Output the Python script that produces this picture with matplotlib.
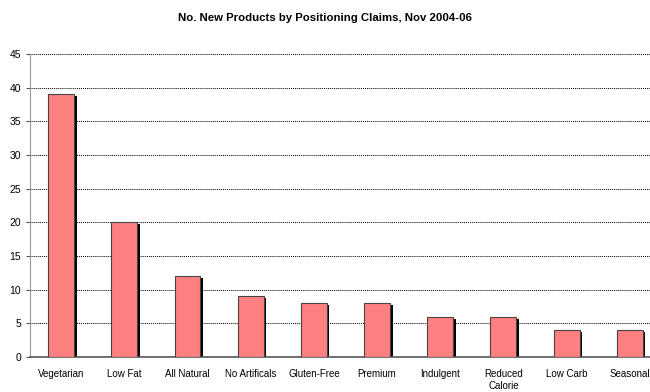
import matplotlib.pyplot as plt
import numpy as np

plt.rcParams['font.family'] = ['Liberation Sans', 'DejaVu Sans']

# product counts per positioning claim
claims = ['Vegetarian', 'Low Fat', 'All Natural', 'No Artificals', 'Gluten-Free',
          'Premium', 'Indulgent', 'Reduced\nCalorie', 'Low Carb', 'Seasonal']
counts = [39, 20, 12, 9, 8, 8, 6, 6, 4, 4]
yticks = [0, 5, 10, 15, 20, 25, 30, 35, 40, 45]

fig = plt.figure(figsize=(6.5, 3.92), dpi=100)
# plot area runs a little past the right edge of the figure
ax = fig.add_axes([0.0455, 0.0893, 0.972, 0.773])

x = np.arange(len(claims))
w = 0.41
# drop shadow behind each bar, nudged right and down
ax.bar(x + 0.04, np.array(counts) - 0.3, width=w, color='black', zorder=2)
ax.bar(x, counts, width=w, color='#FF8080', edgecolor='#444444', linewidth=0.8, zorder=3)

ax.set_xlim(-0.5, len(claims) - 0.5)
ax.set_ylim(0, 45)
ax.set_yticks(yticks)
ax.set_xticks(x)
ax.set_xticklabels(claims, fontsize=7)
ax.tick_params(axis='y', labelsize=7.5, length=3, width=0.8, color='#555555', pad=3)
ax.tick_params(axis='x', length=0, pad=9)
for t in yticks[1:]:
    ax.axhline(t, color='black', linestyle=(0, (1, 1)), linewidth=0.7, zorder=1)

for s in ['top', 'right']:
    ax.spines[s].set_visible(False)
ax.spines['left'].set_color('#999999')
ax.spines['bottom'].set_color('#555555')
ax.spines['bottom'].set_linewidth(1.2)

fig.text(0.5, 0.955, 'No. New Products by Positioning Claims, Nov 2004-06',
         ha='center', va='center', fontsize=8.2, fontweight='bold')

fig.savefig('out.png', dpi=100)
